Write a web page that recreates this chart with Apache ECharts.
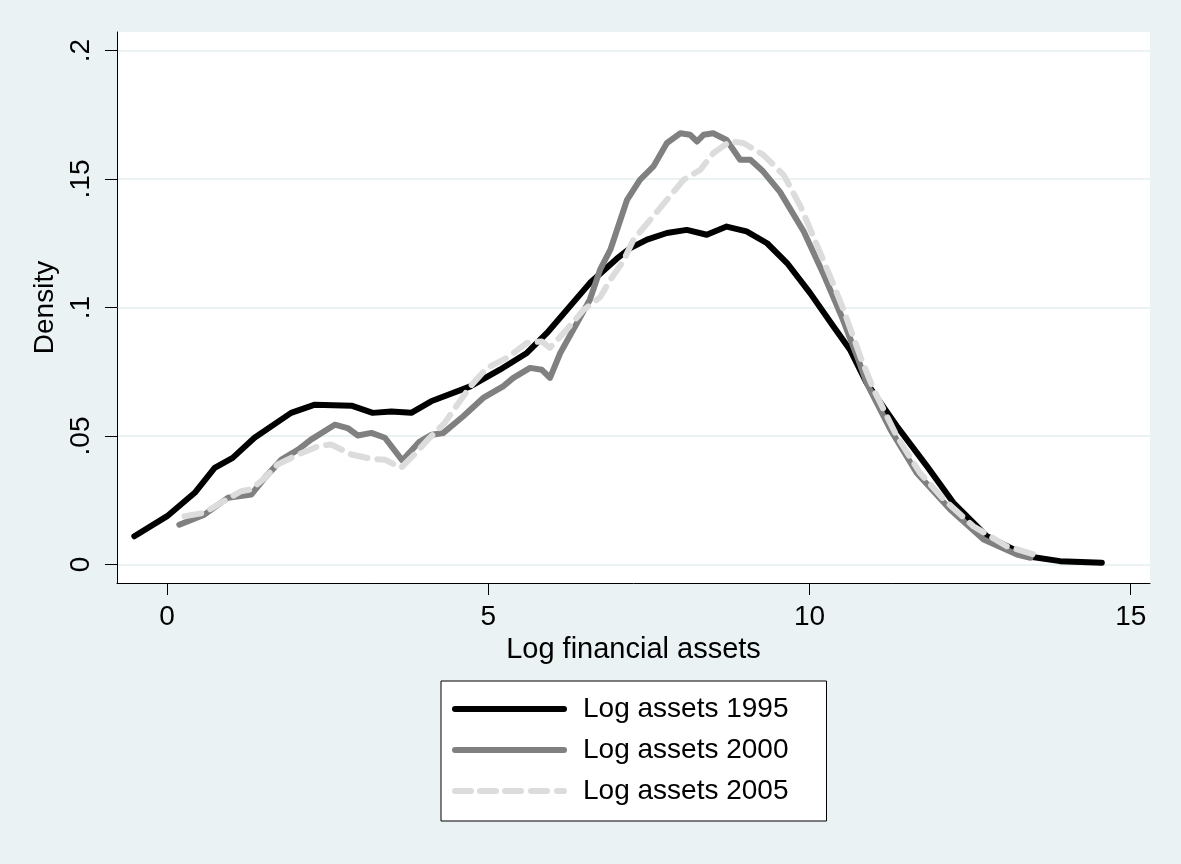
<!DOCTYPE html>
<html>
<head>
<meta charset="utf-8">
<script src="https://cdn.jsdelivr.net/npm/echarts@6/dist/echarts.min.js"></script>
<style>
  body { margin: 0; background: #eaf2f3; }
  #main { width: 1181px; height: 864px; }
</style>
</head>
<body>
<div id="main"></div>
<script>
  // x = log financial assets, y = kernel density
  var x1995 = [-0.51, 0.0, 0.43, 0.74, 1.02, 1.36, 1.93, 2.30, 2.87, 3.20, 3.49, 3.80, 4.11, 4.72, 5.18, 5.60, 5.91, 6.58, 7.0, 7.21, 7.47, 7.78, 8.09, 8.40, 8.71, 9.02, 9.34, 9.65, 10.01, 10.37, 10.63, 10.89, 11.36, 11.83, 12.24, 12.76, 13.39, 13.9, 14.55];
  var y1995 = [0.011, 0.0188, 0.0279, 0.0376, 0.0415, 0.0493, 0.059, 0.0622, 0.0618, 0.059, 0.0595, 0.059, 0.0635, 0.0693, 0.0758, 0.0823, 0.090, 0.1095, 0.119, 0.1231, 0.1264, 0.129, 0.1302, 0.1283, 0.1315, 0.1296, 0.125, 0.1173, 0.1056, 0.0927, 0.0836, 0.0706, 0.0538, 0.0382, 0.024, 0.011, 0.0032, 0.0013, 0.0007];

  var x2000 = [0.19, 0.58, 0.95, 1.31, 1.52, 1.78, 2.04, 2.24, 2.61, 2.81, 2.97, 3.18, 3.39, 3.66, 3.92, 4.12, 4.30, 4.61, 4.92, 5.23, 5.39, 5.65, 5.83, 5.96, 6.12, 6.38, 6.58, 6.74, 6.90, 7.16, 7.36, 7.57, 7.78, 7.99, 8.14, 8.25, 8.35, 8.50, 8.71, 8.92, 9.08, 9.28, 9.54, 9.91, 10.22, 10.50, 10.74, 10.89, 11.26, 11.67, 12.19, 12.71, 13.23, 13.44];
  var y2000 = [0.0155, 0.0194, 0.026, 0.0272, 0.0337, 0.0408, 0.0447, 0.0486, 0.0544, 0.0531, 0.0502, 0.0512, 0.0493, 0.0405, 0.0476, 0.0505, 0.0512, 0.0577, 0.0648, 0.0693, 0.0726, 0.0765, 0.0758, 0.0726, 0.0823, 0.094, 0.103, 0.1147, 0.1225, 0.1419, 0.1497, 0.1549, 0.164, 0.1678, 0.1672, 0.1646, 0.1672, 0.1678, 0.1652, 0.1575, 0.1575, 0.1529, 0.145, 0.1296, 0.1128, 0.0965, 0.081, 0.0706, 0.0525, 0.0356, 0.0214, 0.0097, 0.0039, 0.0026];

  var x2005 = [0.27, 0.58, 0.79, 1.15, 1.31, 1.52, 1.72, 2.04, 2.35, 2.55, 2.87, 3.18, 3.39, 3.64, 3.85, 4.06, 4.32, 4.72, 4.98, 5.29, 5.60, 5.83, 5.96, 6.22, 6.48, 6.74, 6.90, 7.10, 7.26, 7.52, 7.78, 8.04, 8.30, 8.50, 8.76, 8.97, 9.28, 9.60, 9.86, 10.06, 10.32, 10.53, 10.79, 11.0, 11.36, 11.72, 12.09, 12.55, 13.07, 13.49];
  var y2005 = [0.0188, 0.0201, 0.0233, 0.0285, 0.0292, 0.0337, 0.0389, 0.0428, 0.046, 0.0467, 0.0428, 0.0411, 0.0408, 0.0376, 0.0428, 0.0486, 0.0551, 0.0693, 0.0765, 0.0804, 0.0862, 0.0868, 0.0843, 0.0914, 0.099, 0.104, 0.1108, 0.118, 0.1264, 0.1341, 0.1419, 0.1497, 0.1536, 0.16, 0.1646, 0.164, 0.1594, 0.1515, 0.1393, 0.1276, 0.1121, 0.0991, 0.081, 0.068, 0.0499, 0.0356, 0.0253, 0.0149, 0.0071, 0.0039];

  var xTicks = [0, 5, 10, 15];
  var yTicks = [0, 0.05, 0.1, 0.15, 0.2];
  var yTickLabels = ['0', '.05', '.1', '.15', '.2'];
  var names = ['Log assets 1995', 'Log assets 2000', 'Log assets 2005'];

  // legend keys (solid bar / dashes), 115 x 6 units
  var solidKey = 'path://M3,0H112A3,3 0 0 1 112,6H3A3,3 0 0 1 3,0Z';
  var dashKey = 'path://M3,0H19A3,3 0 0 1 19,6H3A3,3 0 0 1 3,0Z' +
    'M28,0H44A3,3 0 0 1 44,6H28A3,3 0 0 1 28,0Z' +
    'M53,0H69A3,3 0 0 1 69,6H53A3,3 0 0 1 53,0Z' +
    'M79,0H95A3,3 0 0 1 95,6H79A3,3 0 0 1 79,0Z' +
    'M105,0H112A3,3 0 0 1 112,6H105A3,3 0 0 1 105,0Z';

  function pairs(xs, ys) {
    var out = [];
    for (var i = 0; i < xs.length; i++) {
      out.push([xs[i], ys[i]]);
    }
    return out;
  }

  var font = '"Liberation Sans", Arial, sans-serif';
  var chart = echarts.init(document.getElementById('main'));
  chart.setOption({
    backgroundColor: '#eaf2f3',
    animation: false,
    textStyle: { fontFamily: font },
    grid: {
      left: 117,
      right: 31,
      top: 32,
      bottom: 281,
      show: true,
      backgroundColor: '#ffffff',
      borderWidth: 0
    },
    legend: {
      data: [
        { name: names[0], icon: solidKey },
        { name: names[1], icon: solidKey },
        { name: names[2], icon: dashKey }
      ],
      orient: 'vertical',
      left: 441,
      top: 681,
      itemWidth: 115,
      itemHeight: 6,
      itemGap: 13,
      symbolKeepAspect: false,
      padding: [14, 38, 16, 11],
      backgroundColor: '#ffffff',
      borderColor: '#000000',
      borderWidth: 1,
      borderRadius: 0,
      textStyle: { fontSize: 28, color: '#000', fontFamily: font, padding: [0, 0, 0, 11] }
    },
    xAxis: {
      type: 'value',
      min: -0.78,
      max: 15.3,
      name: 'Log financial assets',
      nameLocation: 'middle',
      nameGap: 50,
      nameTextStyle: { fontSize: 29, color: '#000', fontFamily: font },
      axisLine: { show: true, onZero: false, lineStyle: { color: '#000', width: 1 } },
      axisTick: { show: true, length: 12, customValues: xTicks, lineStyle: { color: '#000' } },
      axisLabel: { customValues: xTicks, fontSize: 28, color: '#000', margin: 20, fontFamily: font },
      splitLine: { show: false }
    },
    yAxis: {
      type: 'value',
      min: -0.0072,
      max: 0.2072,
      name: 'Density',
      nameLocation: 'middle',
      nameGap: 55,
      nameRotate: 90,
      nameTextStyle: { fontSize: 28, color: '#000', fontFamily: font },
      axisLine: { show: true, onZero: false, lineStyle: { color: '#000', width: 1 } },
      axisTick: { show: true, length: 12, customValues: yTicks, lineStyle: { color: '#000' } },
      axisLabel: {
        customValues: yTicks,
        rotate: 90,
        fontSize: 28,
        color: '#000',
        margin: 22,
        fontFamily: font,
        formatter: function (v) {
          for (var i = 0; i < yTicks.length; i++) {
            if (Math.abs(yTicks[i] - v) < 1e-9) return yTickLabels[i];
          }
          return '';
        }
      },
      splitLine: { show: true, lineStyle: { color: '#eaf2f3', width: 2 } }
    },
    series: [
      {
        name: names[0],
        type: 'line',
        data: pairs(x1995, y1995),
        symbol: 'none',
        lineStyle: { color: '#000000', width: 6, cap: 'round', join: 'round' },
        itemStyle: { color: '#000000' }
      },
      {
        name: names[1],
        type: 'line',
        data: pairs(x2000, y2000),
        symbol: 'none',
        lineStyle: { color: '#808080', width: 6, cap: 'round', join: 'round' },
        itemStyle: { color: '#808080' }
      },
      {
        name: names[2],
        type: 'line',
        data: pairs(x2005, y2005),
        symbol: 'none',
        lineStyle: { color: '#dcdcdc', width: 6, type: [17, 10], cap: 'round', join: 'round' },
        itemStyle: { color: '#dcdcdc' }
      }
    ]
  });
</script>
</body>
</html>
